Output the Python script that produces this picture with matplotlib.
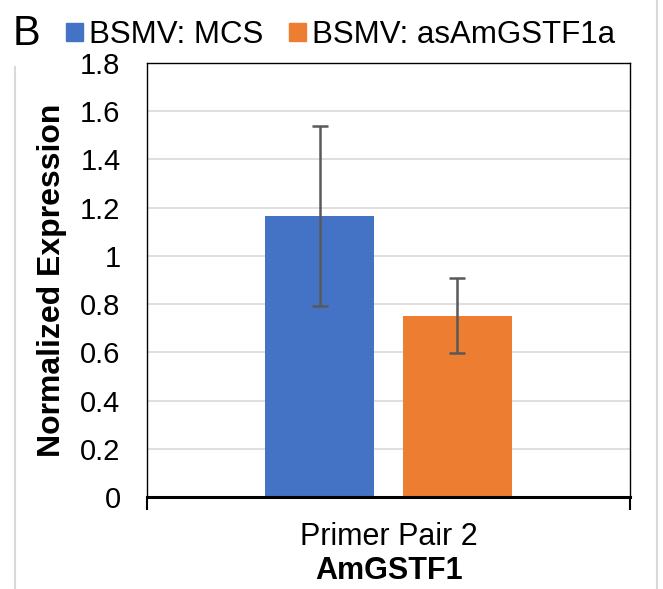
import matplotlib.pyplot as plt
from matplotlib.lines import Line2D
from matplotlib.patches import Rectangle

plt.rcParams['font.family'] = ['Liberation Sans', 'DejaVu Sans']

series = ['BSMV: MCS', 'BSMV: asAmGSTF1a']
values = [1.165, 0.752]
errors = [0.373, 0.155]
colors = ['#4472C4', '#ED7D31']
category = 'Primer Pair 2'
gene = 'AmGSTF1'
yticks = [0, 0.2, 0.4, 0.6, 0.8, 1, 1.2, 1.4, 1.6, 1.8]
ytick_labels = ['0', '0.2', '0.4', '0.6', '0.8', '1', '1.2', '1.4', '1.6', '1.8']

fig = plt.figure(figsize=(6.63, 5.89), dpi=100)
ax = fig.add_axes([147 / 663, 92 / 589, 483 / 663, 434 / 589])

offsets = [-0.1425, 0.1425]
width = 0.227
for off, v, e, c in zip(offsets, values, errors, colors):
    ax.bar(off, v, width=width, color=c, zorder=3)
    ax.errorbar(off, v, yerr=e, fmt='none', ecolor='#595959', elinewidth=1.8,
                capsize=6, capthick=1.8, zorder=4)

ax.set_xlim(-0.5, 0.5)
ax.set_ylim(0, 1.8)
ax.set_yticks(yticks)
ax.set_yticklabels(ytick_labels, fontsize=21)
ax.tick_params(axis='y', length=0, pad=19)
ax.set_xticks([-0.5, 0.5])
ax.set_xticklabels(['', ''])
ax.tick_params(axis='x', length=9, width=1.5, direction='out')
ax.grid(axis='y', color='#d9d9d9', linewidth=1.2, zorder=0)
ax.set_axisbelow(True)

for s in ['left', 'top', 'right']:
    ax.spines[s].set_linewidth(1.0)
    ax.spines[s].set_color('black')
ax.spines['bottom'].set_linewidth(2.2)
ax.spines['bottom'].set_zorder(5)

ax.set_ylabel('Normalized Expression', fontsize=23, fontweight='bold')
ax.yaxis.set_label_coords((52 - 147) / 483, (497 - 280) / 434)
ax.yaxis.label.set_va('center')

fig.text(389 / 663, 1 - 545 / 589, category, fontsize=22, ha='center', va='baseline')
fig.text(389 / 663, 1 - 579 / 589, gene, fontsize=22, fontweight='bold',
         ha='center', va='baseline')

# panel letter and legend
fig.text(13 / 663, 1 - 45 / 589, 'B', fontsize=30, ha='left', va='baseline')
handles = [Rectangle((0, 0), 1, 1, color=c) for c in colors]
fig.legend(handles, series, loc='center left', bbox_to_anchor=(66 / 663, 1 - 35 / 589),
           ncol=2, frameon=False, fontsize=22.5, handlelength=0.55, handleheight=0.55,
           handletextpad=0.2, columnspacing=0.8, borderaxespad=0, borderpad=0)

# chart-area border fragments
fig.add_artist(Line2D([15 / 663, 15 / 663], [0, 1 - 67 / 589], color='#d9d9d9', lw=1.5))
fig.add_artist(Line2D([657 / 663, 657 / 663], [0, 1], color='#d9d9d9', lw=1.5))

fig.savefig('out.png', dpi=100)
